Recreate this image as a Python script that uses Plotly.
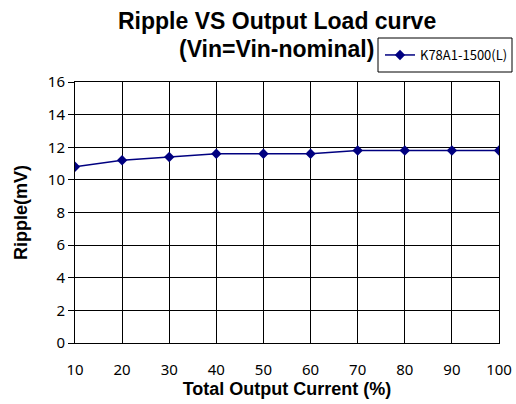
import plotly.graph_objects as go

load_pct = [10, 20, 30, 40, 50, 60, 70, 80, 90, 100]
ripple_mv = [10.8, 11.2, 11.4, 11.6, 11.6, 11.6, 11.8, 11.8, 11.8, 11.8]
series_name = "K78A1-1500(L)"
y_ticks = [0, 2, 4, 6, 8, 10, 12, 14, 16]

L, R, T, B = 75, 499, 82, 343
PW, PH = R - L, B - T

def px_x(x):
    return (x - L) / PW

def px_y(y):
    return (B - y) / PH

fig = go.Figure()
fig.add_trace(go.Scatter(
    x=load_pct, y=ripple_mv, name=series_name, mode="lines+markers",
    line=dict(color="#000080", width=1.5),
    marker=dict(symbol="diamond", size=8, color="#000080"),
))

fig.update_layout(
    width=516, height=404,
    margin=dict(l=L, r=516 - R, t=T, b=404 - B, autoexpand=False),
    paper_bgcolor="white", plot_bgcolor="white",
    showlegend=True,
    legend=dict(x=px_x(380), y=px_y(55), xref="paper", yref="paper",
                xanchor="left", yanchor="middle",
                borderwidth=0,
                font=dict(family="Noto Sans CJK SC", size=13, color="black"),
                bgcolor="rgba(0,0,0,0)", itemwidth=30),
    font=dict(family="Noto Sans", color="black"),
)

fig.add_shape(type="rect", xref="paper", yref="paper",
              x0=px_x(378), x1=px_x(512), y0=px_y(38), y1=px_y(72),
              line=dict(color="black", width=1), fillcolor="white", layer="below")

fig.add_annotation(text="<b>Ripple VS Output Load curve</b>", xref="paper", yref="paper",
                   x=px_x(277), y=px_y(21), showarrow=False, yanchor="middle",
                   font=dict(family="Liberation Sans", size=23, color="black"))
fig.add_annotation(text="<b>(Vin=Vin-nominal)</b>", xref="paper", yref="paper",
                   x=px_x(276), y=px_y(49), showarrow=False, yanchor="middle",
                   font=dict(family="Liberation Sans", size=23, color="black"))

fig.update_xaxes(range=[10, 100], tickvals=load_pct, showgrid=True, gridcolor="black",
                 gridwidth=1, showline=True, linecolor="black", linewidth=1, mirror=True,
                 ticks="", ticklabelstandoff=13, zeroline=False, automargin=False,
                 tickfont=dict(family="Noto Sans", size=15, color="black"),
                 title=dict(text="<b>Total Output Current (%)</b>", standoff=4,
                            font=dict(family="Liberation Sans", size=18, color="black")))
fig.update_yaxes(range=[0, 16], tickvals=y_ticks, showgrid=True, gridcolor="black",
                 gridwidth=1, showline=True, linecolor="black", linewidth=1, mirror=True,
                 ticks="outside", ticklen=6, tickcolor="black", zeroline=False, automargin=False,
                 tickfont=dict(family="Noto Sans", size=15, color="black"),
                 title=dict(text="<b>Ripple(mV)</b>", standoff=15,
                            font=dict(family="Liberation Sans", size=18, color="black")))

fig.write_html("out.html", config={"displayModeBar": False},
               post_script="document.body.style.margin='0';document.body.style.overflow='hidden';")
